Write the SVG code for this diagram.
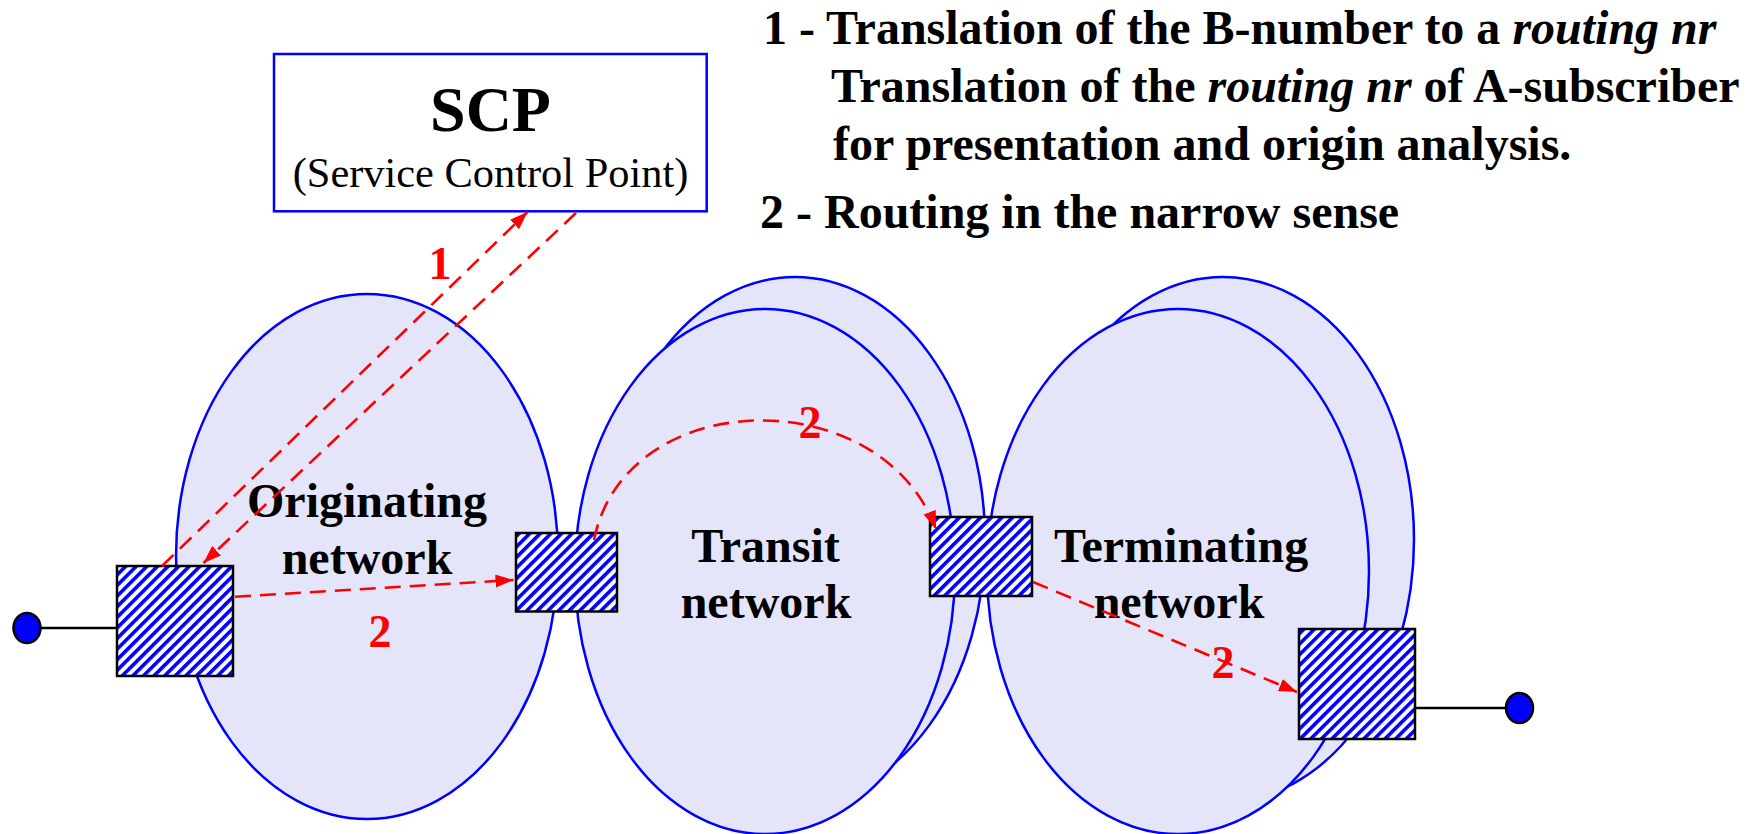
<svg xmlns="http://www.w3.org/2000/svg" width="1759" height="834" viewBox="0 0 1759 834">
<style>
.net{fill:#e5e5fa;stroke:#0000ff;stroke-width:2.5}
.sw{fill:url(#hatch);stroke:#000;stroke-width:2.5}
.wire{stroke:#000;stroke-width:2.5;fill:none}
.dot{fill:#0000ff;stroke:#000;stroke-width:2.5}
.conn{fill:none;stroke:#ff0000;stroke-width:2.6;stroke-dasharray:16 9;marker-end:url(#ah)}
.lbl{font-family:"Liberation Serif","Times New Roman",serif;font-weight:bold;font-size:48px;fill:#000;text-anchor:middle}
.num{font-family:"Liberation Serif","Times New Roman",serif;font-weight:bold;font-size:46px;fill:#ff0000;text-anchor:middle}
.top{font-family:"Liberation Serif","Times New Roman",serif;font-weight:bold;font-size:48px;fill:#000}
.it{font-style:italic}
</style>
<defs>
<pattern id="hatch" patternUnits="userSpaceOnUse" width="7.5" height="7.5" patternTransform="rotate(45)">
<rect width="7.5" height="7.5" fill="#fff"/>
<rect width="3.6" height="7.5" fill="#0000ff"/>
</pattern>
<marker id="ah" markerUnits="userSpaceOnUse" markerWidth="18" markerHeight="13" refX="18" refY="6.5" orient="auto">
<path d="M0,0 L18,6.5 L0,13 z" fill="#ff0000"/>
</marker>
</defs>

<g id="originating-network">
<ellipse class="net" cx="367" cy="556.5" rx="191" ry="262.5"/>
</g>
<g id="transit-network">
<ellipse class="net" cx="795" cy="539.5" rx="190" ry="262.5"/>
<ellipse class="net" cx="765" cy="571.5" rx="190" ry="262.5"/>
</g>
<g id="terminating-network">
<ellipse class="net" cx="1223" cy="539.5" rx="191" ry="262.5"/>
<ellipse class="net" cx="1178" cy="571.5" rx="191" ry="262.5"/>
</g>

<g id="scp">
<rect x="274" y="54" width="432.7" height="157.3" fill="#fff" stroke="#0000ff" stroke-width="2.5"/>
<text x="490.5" y="130.7" font-family="'Liberation Serif','Times New Roman',serif" font-weight="bold" font-size="64" text-anchor="middle">SCP</text>
<text x="490.5" y="186.7" font-family="'Liberation Serif','Times New Roman',serif" font-size="42.4" text-anchor="middle">(Service Control Point)</text>
</g>

<g id="subscriber-a">
<line class="wire" x1="40" y1="628" x2="117" y2="628"/>
<ellipse class="dot" cx="27" cy="628" rx="13.5" ry="15"/>
</g>
<g id="subscriber-b">
<line class="wire" x1="1415" y1="708" x2="1506" y2="708"/>
<ellipse class="dot" cx="1519.5" cy="708" rx="13.5" ry="15"/>
</g>

<g id="switch-originating"><rect class="sw" x="117" y="566" width="116" height="110"/></g>
<g id="switch-transit-in"><rect class="sw" x="516" y="533" width="101" height="78.5"/></g>
<g id="switch-transit-out"><rect class="sw" x="930" y="517" width="102" height="79"/></g>
<g id="switch-terminating"><rect class="sw" x="1299" y="629" width="116" height="110"/></g>

<g id="labels">
<text class="lbl" x="367" y="516.7">Originating</text>
<text class="lbl" x="367" y="574.3">network</text>
<text class="lbl" x="765.5" y="561.7">Transit</text>
<text class="lbl" x="766" y="618.3">network</text>
<text class="lbl" x="1181" y="561.7">Terminating</text>
<text class="lbl" x="1179" y="618.3">network</text>
</g>

<g id="legend">
<text class="top" x="763" y="44">1 - Translation of the B-number to a <tspan class="it">routing nr</tspan></text>
<text class="top" x="831" y="102">Translation of the <tspan class="it">routing nr</tspan> of A-subscriber</text>
<text class="top" x="833" y="160">for presentation and origin analysis.</text>
<text class="top" x="760" y="228">2 - Routing in the narrow sense</text>
</g>

<g id="connectors">
<line class="conn" x1="162" y1="566" x2="527.5" y2="212"/>
<line class="conn" x1="576" y1="213" x2="203.5" y2="563"/>
<line class="conn" x1="235" y1="596.7" x2="513.5" y2="580"/>
<path class="conn" d="M594,540 C625,385 880,380 936,529"/>
<line class="conn" x1="1033" y1="582" x2="1297" y2="692"/>
</g>

<g id="connector-labels">
<text class="num" x="440" y="279">1</text>
<text class="num" x="380" y="647">2</text>
<text class="num" x="810" y="438">2</text>
<text class="num" x="1223" y="678">2</text>
</g>
</svg>
